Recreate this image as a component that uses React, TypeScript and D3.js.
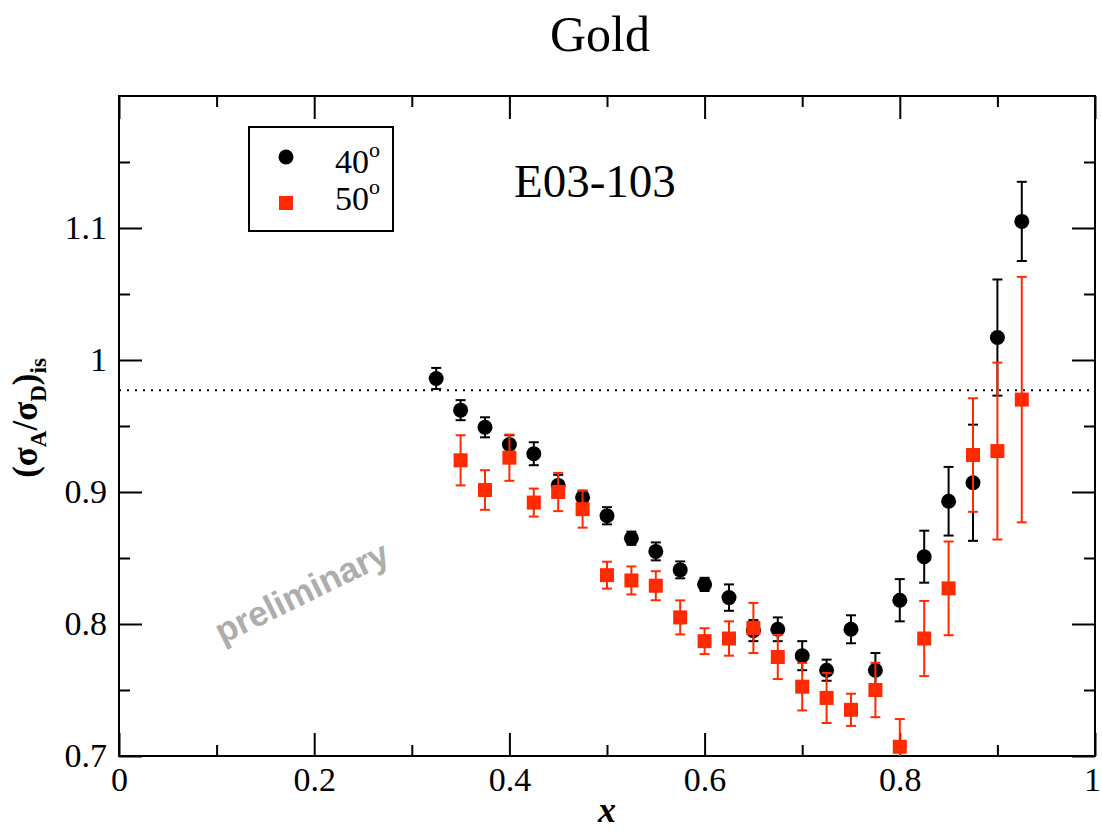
import React, { useEffect, useRef } from "react";
import * as d3 from "d3";

// 40 degree set (black circles)
const x40 = [0.325, 0.35, 0.375, 0.4, 0.425, 0.45, 0.475, 0.5, 0.525, 0.55, 0.575, 0.6, 0.625,
  0.65, 0.675, 0.7, 0.725, 0.75, 0.775, 0.8, 0.825, 0.85, 0.875, 0.9, 0.925];
const ratio40 = [0.986, 0.962, 0.949, 0.936, 0.929, 0.905, 0.896, 0.882, 0.865, 0.855, 0.841, 0.83, 0.82,
  0.795, 0.796, 0.776, 0.765, 0.796, 0.765, 0.818, 0.851, 0.893, 0.907, 1.017, 1.105];
const err40 = [0.008, 0.0076, 0.0076, 0.007, 0.0087, 0.008, 0.005, 0.0065, 0.005, 0.0068, 0.0064, 0.005, 0.01,
  0.008, 0.009, 0.011, 0.008, 0.0106, 0.013, 0.016, 0.0197, 0.026, 0.044, 0.044, 0.03];

// 50 degree set (red squares)
const x50 = [0.35, 0.375, 0.4, 0.425, 0.45, 0.475, 0.5, 0.525, 0.55, 0.575, 0.6, 0.625,
  0.65, 0.675, 0.7, 0.725, 0.75, 0.775, 0.8, 0.825, 0.85, 0.875, 0.9, 0.925];
const ratio50 = [0.924, 0.9015, 0.926, 0.892, 0.9, 0.887, 0.837, 0.833, 0.829, 0.805, 0.787, 0.789,
  0.797, 0.775, 0.7525, 0.744, 0.735, 0.75, 0.707, 0.789, 0.827, 0.928, 0.931, 0.97];
const err50 = [0.019, 0.015, 0.0175, 0.0106, 0.0145, 0.014, 0.0102, 0.0106, 0.011, 0.0129, 0.0098, 0.013,
  0.019, 0.0167, 0.018, 0.019, 0.0122, 0.0206, 0.021, 0.0285, 0.0355, 0.043, 0.067, 0.093];

const xTicks = [0, 0.2, 0.4, 0.6, 0.8, 1];
const xMinor = [0.1, 0.3, 0.5, 0.7, 0.9];
const yTicks = [0.7, 0.8, 0.9, 1, 1.1];
const yMinor = [0.75, 0.85, 0.95, 1.05, 1.15];
const refLevel = 0.977;

const RED = "#ff2a00";
const SERIF = "'Liberation Serif', 'Times New Roman', serif";

const Chart = () => {
  const ref = useRef<SVGSVGElement>(null);
  const width = 1102;
  const height = 832;
  const margin = { top: 96, right: 1102 - 1095, bottom: 832 - 756, left: 119 };

  useEffect(() => {
    const svg = d3.select(ref.current);
    svg.selectAll("*").remove();

    const xScale = d3.scaleLinear().domain([0, 1]).range([margin.left, width - margin.right]);
    const yScale = d3.scaleLinear().domain([0.7, 1.2]).range([height - margin.bottom, margin.top]);

    svg.append("defs").append("clipPath").attr("id", "plot-clip")
      .append("rect")
      .attr("x", margin.left).attr("y", margin.top)
      .attr("width", width - margin.left - margin.right)
      .attr("height", height - margin.top - margin.bottom);

    // title
    svg.append("text").attr("x", 600).attr("y", 51)
      .attr("text-anchor", "middle").attr("font-family", SERIF).attr("font-size", 50)
      .text("Gold");

    // axes: ticks point inward on all four sides
    const styleAxis = (g) => {
      g.select(".domain").remove();
      g.selectAll("line").attr("stroke", "#000").attr("stroke-width", 2);
      g.attr("font-family", SERIF).attr("font-size", 34);
      g.selectAll("text").attr("fill", "#000");
    };
    const fmt = d3.format("");
    const bottomY = height - margin.bottom;

    svg.append("g").attr("transform", `translate(0,${bottomY})`)
      .call(d3.axisBottom(xScale).tickValues(xTicks).tickSize(-23).tickPadding(11).tickFormat(fmt))
      .call(styleAxis);
    svg.append("g").attr("transform", `translate(0,${bottomY})`)
      .call(d3.axisBottom(xScale).tickValues(xMinor).tickSize(-11).tickFormat(() => ""))
      .call(styleAxis);
    svg.append("g").attr("transform", `translate(0,${margin.top})`)
      .call(d3.axisTop(xScale).tickValues(xTicks).tickSize(-23).tickFormat(() => ""))
      .call(styleAxis);
    svg.append("g").attr("transform", `translate(0,${margin.top})`)
      .call(d3.axisTop(xScale).tickValues(xMinor).tickSize(-11).tickFormat(() => ""))
      .call(styleAxis);

    svg.append("g").attr("transform", `translate(${margin.left},0)`)
      .call(d3.axisLeft(yScale).tickValues(yTicks).tickSize(-23).tickPadding(12).tickFormat(fmt))
      .call(styleAxis);
    svg.append("g").attr("transform", `translate(${margin.left},0)`)
      .call(d3.axisLeft(yScale).tickValues(yMinor).tickSize(-11).tickFormat(() => ""))
      .call(styleAxis);
    svg.append("g").attr("transform", `translate(${width - margin.right},0)`)
      .call(d3.axisRight(yScale).tickValues(yTicks).tickSize(-23).tickFormat(() => ""))
      .call(styleAxis);
    svg.append("g").attr("transform", `translate(${width - margin.right},0)`)
      .call(d3.axisRight(yScale).tickValues(yMinor).tickSize(-11).tickFormat(() => ""))
      .call(styleAxis);

    // keep the last x label inside the page
    svg.selectAll("text").filter(function () { return d3.select(this).text() === "1" && +d3.select(this.parentNode).attr("transform").match(/translate\(([\d.]+)/)?.[1] > 1000; })
      .attr("dx", -3);

    // frame
    svg.append("rect")
      .attr("x", margin.left).attr("y", margin.top)
      .attr("width", width - margin.left - margin.right)
      .attr("height", height - margin.top - margin.bottom)
      .attr("fill", "none").attr("stroke", "#000").attr("stroke-width", 2);

    // axis labels
    svg.append("text").attr("x", 607).attr("y", 822)
      .attr("text-anchor", "middle").attr("font-family", SERIF)
      .attr("font-size", 36).attr("font-weight", "bold").attr("font-style", "italic")
      .text("x");

    const yl = svg.append("text")
      .attr("transform", "translate(37,418) rotate(-90)")
      .attr("text-anchor", "middle").attr("font-family", SERIF)
      .attr("font-size", 35).attr("font-weight", "bold");
    yl.append("tspan").text("(σ");
    yl.append("tspan").attr("dy", 9).attr("font-size", 23).text("A");
    yl.append("tspan").attr("dy", -9).text("/σ");
    yl.append("tspan").attr("dy", 9).attr("font-size", 23).text("D");
    yl.append("tspan").attr("dy", -9).text(")");
    yl.append("tspan").attr("dy", 9).attr("font-size", 23).text("is");

    // watermark
    svg.append("text")
      .attr("transform", "translate(307,603) rotate(-26)")
      .attr("text-anchor", "middle")
      .attr("font-family", "'Liberation Sans', Arial, sans-serif")
      .attr("font-size", 35).attr("font-weight", "bold").attr("fill", "#adadad")
      .text("preliminary");

    // experiment label
    svg.append("text").attr("x", 514).attr("y", 197)
      .attr("font-family", SERIF).attr("font-size", 47)
      .text("E03-103");

    const plot = svg.append("g").attr("clip-path", "url(#plot-clip)");

    // reference line
    plot.append("line")
      .attr("x1", xScale(0)).attr("x2", xScale(1))
      .attr("y1", yScale(refLevel)).attr("y2", yScale(refLevel))
      .attr("stroke", "#000").attr("stroke-width", 2)
      .attr("stroke-dasharray", "2,6");

    const drawErrors = (xs, ys, es, color) => {
      const g = plot.append("g").attr("stroke", color).attr("stroke-width", 2);
      xs.forEach((x, i) => {
        const cx = xScale(x);
        const top = yScale(ys[i] + es[i]);
        const bot = yScale(ys[i] - es[i]);
        g.append("line").attr("x1", cx).attr("x2", cx).attr("y1", top).attr("y2", bot);
        g.append("line").attr("x1", cx - 5).attr("x2", cx + 5).attr("y1", top).attr("y2", top);
        g.append("line").attr("x1", cx - 5).attr("x2", cx + 5).attr("y1", bot).attr("y2", bot);
      });
    };

    drawErrors(x40, ratio40, err40, "#000");
    plot.append("g").selectAll("circle")
      .data(x40).enter().append("circle")
      .attr("cx", (d) => xScale(d))
      .attr("cy", (d, i) => yScale(ratio40[i]))
      .attr("r", 7.5).attr("fill", "#000");

    drawErrors(x50, ratio50, err50, RED);
    plot.append("g").selectAll("rect")
      .data(x50).enter().append("rect")
      .attr("x", (d) => xScale(d) - 7)
      .attr("y", (d, i) => yScale(ratio50[i]) - 7)
      .attr("width", 14).attr("height", 14).attr("fill", RED);

    // legend
    svg.append("rect").attr("x", 249).attr("y", 127).attr("width", 144).attr("height", 104)
      .attr("fill", "#fff").attr("stroke", "#000").attr("stroke-width", 2);
    svg.append("circle").attr("cx", 286).attr("cy", 157).attr("r", 7.5).attr("fill", "#000");
    svg.append("rect").attr("x", 279).attr("y", 196).attr("width", 14).attr("height", 14).attr("fill", RED);
    const legendLabels = ["40", "50"];
    legendLabels.forEach((lab, i) => {
      const t = svg.append("text").attr("x", 335).attr("y", 173 + i * 37)
        .attr("font-family", SERIF).attr("font-size", 34);
      t.append("tspan").text(lab);
      t.append("tspan").attr("dy", -16).attr("font-size", 22).text("o");
    });
  });

  return (
    <svg ref={ref} width={width} height={height}
      style={{ position: "absolute", left: 0, top: 0, background: "#fff" }} />
  );
};

export default function App() {
  return <Chart />;
}
